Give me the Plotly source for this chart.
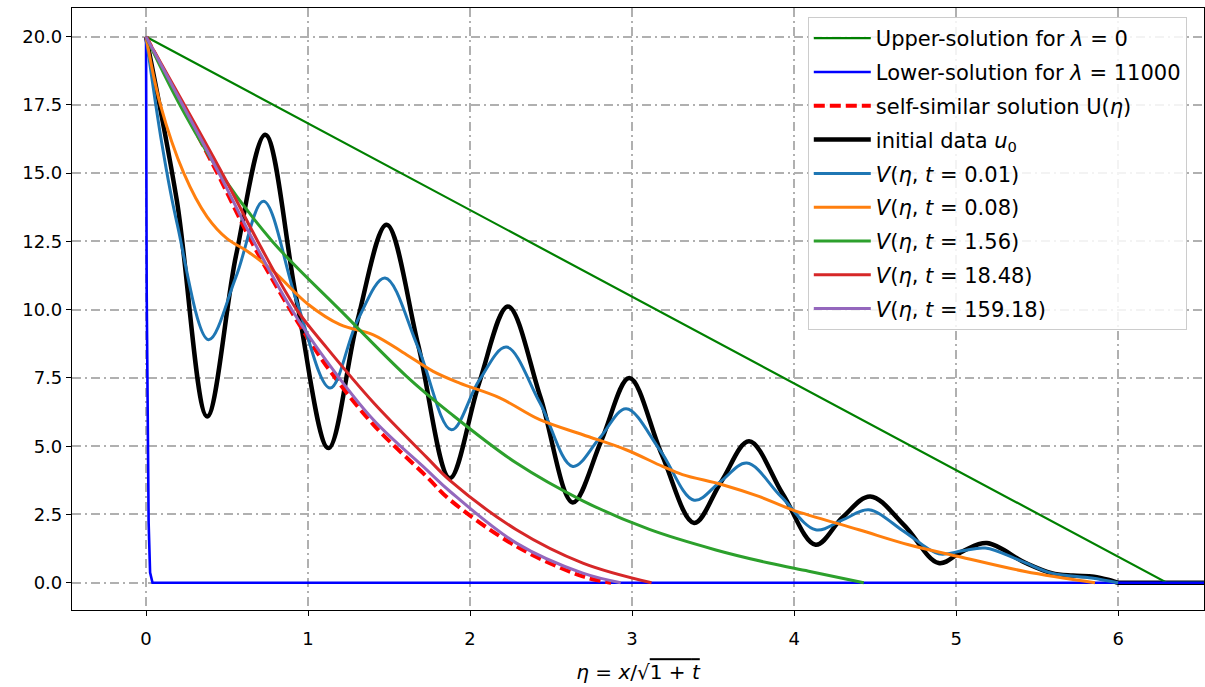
import plotly.graph_objects as go

# ---------------- data ----------------
upper_x = [0.0, 6.3, 6.55]
upper_y = [20.0, 0.0, 0.0]

lower_x = [0.0, 0.004, 0.016, 0.025, 0.04, 6.55]
lower_y = [20.0, 10.7, 2.2, 0.37, 0.0, 0.0]

selfsim_x = [0.0, 0.44, 0.65, 0.89, 1.116, 1.403, 1.731, 1.875, 2.286, 2.696, 2.87]
selfsim_y = [20.0, 15.0, 12.5, 10.0, 7.92, 5.79, 3.89, 3.04, 1.33, 0.23, 0.0]

u0_x = [0.0, 0.19, 0.377, 0.556, 0.736, 0.931, 1.126, 1.305, 1.485, 1.68, 1.875,
        2.055, 2.234, 2.434, 2.634, 2.81, 2.983, 3.183, 3.383, 3.55, 3.722, 3.93,
        4.133, 4.30, 4.47, 4.68, 4.892, 5.04, 5.19, 5.43, 5.59, 5.72, 5.85, 5.95,
        6.0, 6.05, 6.55]
u0_y = [20.0, 14.0, 6.09, 12.0, 16.41, 10.3, 4.93, 9.6, 13.11, 8.7, 3.83,
        7.3, 10.12, 6.8, 2.94, 5.2, 7.5, 4.7, 2.19, 3.7, 5.18, 3.25,
        1.39, 2.4, 3.16, 2.1, 0.72, 1.15, 1.45, 0.72, 0.35, 0.26, 0.22, 0.09,
        0.0, 0.0, 0.0]

v001_x = [0.0, 0.1, 0.19, 0.386, 0.555, 0.725, 0.93, 1.136, 1.305, 1.475, 1.68,
          1.885, 2.055, 2.224, 2.43, 2.634, 2.8, 2.963, 3.173, 3.383, 3.545, 3.708,
          3.92, 4.133, 4.30, 4.461, 4.68, 4.892, 5.04, 5.18, 5.4, 5.59, 5.836, 6.0]
v001_y = [20.0, 16.0, 13.2, 8.9, 11.2, 13.97, 10.3, 7.13, 9.6, 11.16, 8.6,
          5.6, 7.4, 8.63, 6.6, 4.26, 5.3, 6.37, 4.85, 3.02, 3.7, 4.38,
          3.15, 1.94, 2.3, 2.67, 1.87, 1.06, 1.17, 1.27, 0.8, 0.35, 0.17, 0.0]

v008_x = [0.0, 0.089, 0.233, 0.377, 0.5, 0.623, 0.787, 1.0, 1.198, 1.403, 1.608, 1.772,
          1.936, 2.183, 2.43, 2.696, 2.963, 3.188, 3.311, 3.558, 3.783, 3.989, 4.4,
          4.707, 5.015, 5.426, 5.857]
v008_y = [20.0, 17.5, 15.0, 13.4, 12.6, 12.15, 11.4, 10.2, 9.45, 9.08, 8.35, 7.74,
          7.31, 6.77, 5.97, 5.42, 4.87, 4.26, 3.96, 3.59, 3.16, 2.67, 1.94,
          1.39, 0.96, 0.41, 0.0]

v156_x = [0.0, 0.2, 0.459, 0.78, 1.195, 1.608, 1.875, 2.286, 2.696, 3.107, 3.517,
          3.845, 4.09, 4.43]
v156_y = [20.0, 17.6, 15.0, 12.5, 10.0, 7.56, 6.22, 4.38, 3.0, 1.95, 1.2,
          0.72, 0.42, 0.0]

v1848_x = [0.0, 0.47, 0.69, 0.93, 1.116, 1.403, 1.731, 1.875, 2.286, 2.696, 3.12]
v1848_y = [20.0, 15.0, 12.5, 10.0, 8.6, 6.6, 4.6, 3.75, 1.94, 0.72, 0.0]

v15918_x = [0.0, 0.45, 0.665, 0.9, 1.116, 1.403, 1.731, 1.875, 2.286, 2.696, 2.93]
v15918_y = [20.0, 15.0, 12.5, 10.0, 8.11, 5.97, 4.14, 3.35, 1.45, 0.35, 0.0]

x_ticks = [0, 1, 2, 3, 4, 5, 6]
y_ticks = [0.0, 2.5, 5.0, 7.5, 10.0, 12.5, 15.0, 17.5, 20.0]

# ---------------- figure ----------------
FONT = "DejaVu Sans"
fig = go.Figure()

def add(x, y, name, color, width, rank, dash="solid", shape="spline"):
    line = dict(color=color, width=width, dash=dash, shape=shape)
    if shape == "spline":
        line["smoothing"] = 1.0
    fig.add_trace(go.Scatter(
        x=x, y=y, mode="lines", name=name, legendrank=rank,
        legendgroup=str(rank), line=line, hoverinfo="skip"))

# drawing order (z-order) differs from legend order
add(u0_x, u0_y, "initial data <i>u</i><sub>0</sub>", "black", 4.5, 4)
add(upper_x, upper_y, "Upper-solution for <i>λ</i> = 0", "#008000", 2.2, 1, shape="linear")
add(lower_x, lower_y, "Lower-solution for <i>λ</i> = 11000", "#0000ff", 2.6, 2, shape="linear")
add(selfsim_x, selfsim_y, "self-similar solution U(<i>η</i>)", "#ff0000", 4, 3, dash="11px,5px")
add(v001_x, v001_y, "<i>V</i>(<i>η</i>, <i>t</i> = 0.01)", "#1f77b4", 3, 5)
add(v008_x, v008_y, "<i>V</i>(<i>η</i>, <i>t</i> = 0.08)", "#ff7f0e", 3, 6)
add(v156_x, v156_y, "<i>V</i>(<i>η</i>, <i>t</i> = 1.56)", "#2ca02c", 3, 7)
add(v1848_x, v1848_y, "<i>V</i>(<i>η</i>, <i>t</i> = 18.48)", "#d62728", 3, 8)
add(v15918_x, v15918_y, "<i>V</i>(<i>η</i>, <i>t</i> = 159.18)", "#9467bd", 3, 9)

axis_common = dict(
    showline=True, linecolor="black", linewidth=1.2, mirror=True,
    ticks="outside", ticklen=5, tickwidth=1.2, tickcolor="black",
    showgrid=True, gridcolor="#b0b0b0", gridwidth=1.5, griddash="9px,4px,2px,4px",
    zeroline=False, automargin=False,
    tickfont=dict(family=FONT, size=18, color="black"),
)

fig.update_layout(
    width=1205, height=687,
    margin=dict(l=72, r=1, t=8, b=77),
    paper_bgcolor="white", plot_bgcolor="white",
    font=dict(family=FONT, size=18, color="black"),
    xaxis=dict(range=[-0.457, 6.53], tickvals=x_ticks,
               ticktext=[str(v) for v in x_ticks],
               ticklabelstandoff=7,
               title=dict(text="<i>η</i> = <i>x</i>/√<span style='text-decoration:overline'>1 + <i>t</i></span>",
                          font=dict(family=FONT, size=20), standoff=17),
               **axis_common),
    yaxis=dict(range=[-1.0, 21.05], tickvals=y_ticks,
               ticktext=[f"{v:.1f}" for v in y_ticks],
               **axis_common),
    legend=dict(x=0.650, y=0.985, xanchor="left", yanchor="top",
                bgcolor="rgba(255,255,255,0.85)", bordercolor="#cccccc", borderwidth=1,
                font=dict(family=FONT, size=21, color="black"),
                traceorder="grouped", tracegroupgap=3.5, itemwidth=57),
    showlegend=True,
)

fig.write_html("out.html", config={"displayModeBar": False},
               post_script="document.body.style.margin='0px';")
